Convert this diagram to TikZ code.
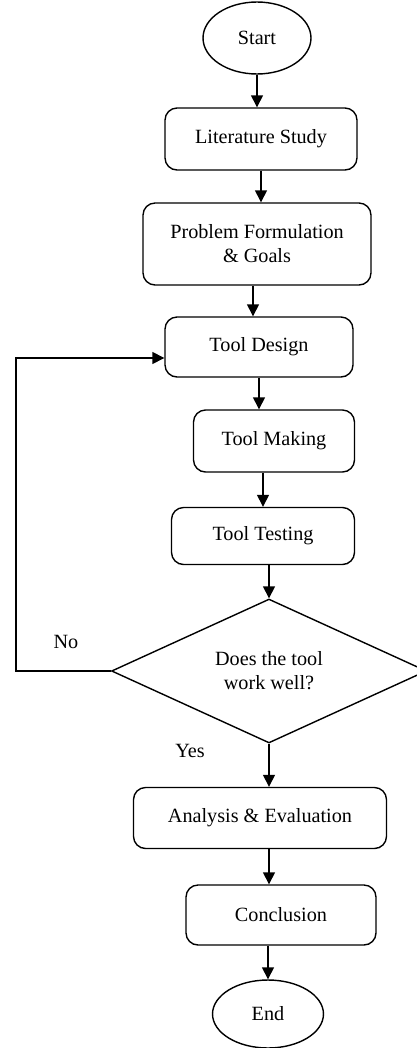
\documentclass[tikz,border=0pt]{standalone}
\usepackage{fontspec}
\setmainfont{Liberation Serif}
\usetikzlibrary{shapes.geometric,arrows.meta}

\tikzset{
	box/.style={draw, rounded corners=0.24cm, line width=0.8pt, align=center},
	oval/.style={draw, ellipse, line width=0.8pt},
	decide/.style={draw, diamond, aspect=2.1, line width=0.8pt, align=center, inner sep=1pt},
	lbl/.style={inner sep=0pt}
}

\begin{document}
\begin{tikzpicture}[x=0.02cm, y=-0.02cm, font=\fontsize{11.5}{13.6}\selectfont,
	>={Triangle[length=0.24cm,width=0.24cm]}, line width=0.8pt]
	
	\useasboundingbox (0,0) rectangle (416,1048);
	
	\node [oval, minimum width=2.16cm, minimum height=1.44cm] (start) at (257,38){Start};
	\node [box, minimum width=3.84cm, minimum height=1.24cm] (lit) at (261,139){Literature Study};
	\node [box, minimum width=4.56cm, minimum height=1.64cm] (prob) at (257,244){Problem Formulation\\\& Goals};
	\node [box, minimum width=3.76cm, minimum height=1.2cm] (design) at (259,347){Tool Design};
	\node [box, minimum width=3.22cm, minimum height=1.24cm] (making) at (274,441){Tool Making};
	\node [box, minimum width=3.66cm, minimum height=1.14cm] (testing) at (263,536){Tool Testing};
	\node [decide, minimum width=6.3cm, minimum height=2.88cm] (check) at (269,671){Does the tool\\work well?};
	\node [box, minimum width=5.06cm, minimum height=1.22cm] (anal) at (260,818){Analysis \& Evaluation};
	\node [box, minimum width=3.8cm, minimum height=1.2cm] (concl) at (281,915){Conclusion};
	\node [oval, minimum width=2.22cm, minimum height=1.36cm] (end) at (268,1014){End};
	
	\node [lbl] (no) at (66,642){No};
	\node [lbl] (yes) at (190,751){Yes};
	\coordinate (loop) at (16,671);
	
	\draw[->] (start.south) -- (start.south |- lit.north);
	\draw[->] (lit.south) -- (lit.south |- prob.north);
	\draw[->] ([xshift=-0.08cm]prob.south) -- ([xshift=-0.08cm]prob.south |- design.north);
	\draw[->] (design.south) -- (design.south |- making.north);
	\draw[->] (testing.north |- making.south) -- (testing.north);
	\draw[->] (check.north |- testing.south) -- (check.north);
	\draw[->] (check.south) -- (check.south |- anal.north);
	\draw[->] (check.south |- anal.south) -- (check.south |- concl.north);
	\draw[->] (end.north |- concl.south) -- (end.north);
	\draw[->] (check.west) -- (loop) |- ([yshift=-0.22cm]design.west);
	
\end{tikzpicture}
\end{document}
